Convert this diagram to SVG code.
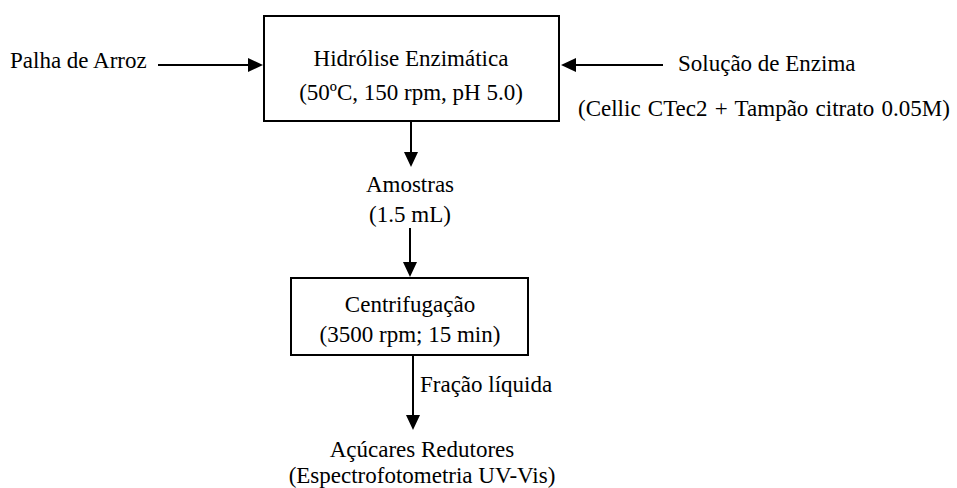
<svg xmlns="http://www.w3.org/2000/svg" width="957" height="488" viewBox="0 0 957 488">
<style>
text{font-family:'Liberation Serif','Times New Roman',serif;font-size:23px;fill:#000}
.c{text-anchor:middle}
.box{fill:#fff;stroke:#000;stroke-width:2}
.ln{stroke:#000;stroke-width:2;fill:none}
.ah{fill:#000}
</style>
<rect width="957" height="488" fill="#fff"/>
<g id="connectors">
<path class="ln" d="M158,65 H249"/><path class="ah" d="M248,58 L263,65 L248,72 Z"/>
<path class="ln" d="M663,65 H575"/><path class="ah" d="M576,58 L561,65 L576,72 Z"/>
<path class="ln" d="M411,117 V153"/><path class="ah" d="M404,152 L411,167 L418,152 Z"/>
<path class="ln" d="M410,228 V263"/><path class="ah" d="M403,262 L410,277 L417,262 Z"/>
<path class="ln" d="M413,355 V416"/><path class="ah" d="M406,415 L413,430 L420,415 Z"/>
</g>
<g id="palha"><text x="10" y="68">Palha de Arroz</text></g>
<g id="hidrolise">
<rect class="box" x="264" y="16" width="295" height="105"/>
<text class="c" x="411" y="66">Hidrólise Enzimática</text>
<text class="c" x="411" y="100">(50ºC, 150 rpm, pH 5.0)</text>
</g>
<g id="solucao">
<text x="678" y="71">Solução de Enzima</text>
<text x="578" y="116" style="word-spacing:1.5px">(Cellic CTec2 + Tampão citrato 0.05M)</text>
</g>
<g id="amostras">
<text class="c" x="410" y="192">Amostras</text>
<text class="c" x="410" y="222">(1.5 mL)</text>
</g>
<g id="centrifugacao">
<rect class="box" x="291" y="278" width="237" height="77"/>
<text class="c" x="410" y="312">Centrifugação</text>
<text class="c" x="410" y="342">(3500 rpm; 15 min)</text>
</g>
<g id="fracao"><text x="420" y="392">Fração líquida</text></g>
<g id="acucares">
<text class="c" x="422" y="457">Açúcares Redutores</text>
<text class="c" x="422" y="483">(Espectrofotometria UV-Vis)</text>
</g>
</svg>
